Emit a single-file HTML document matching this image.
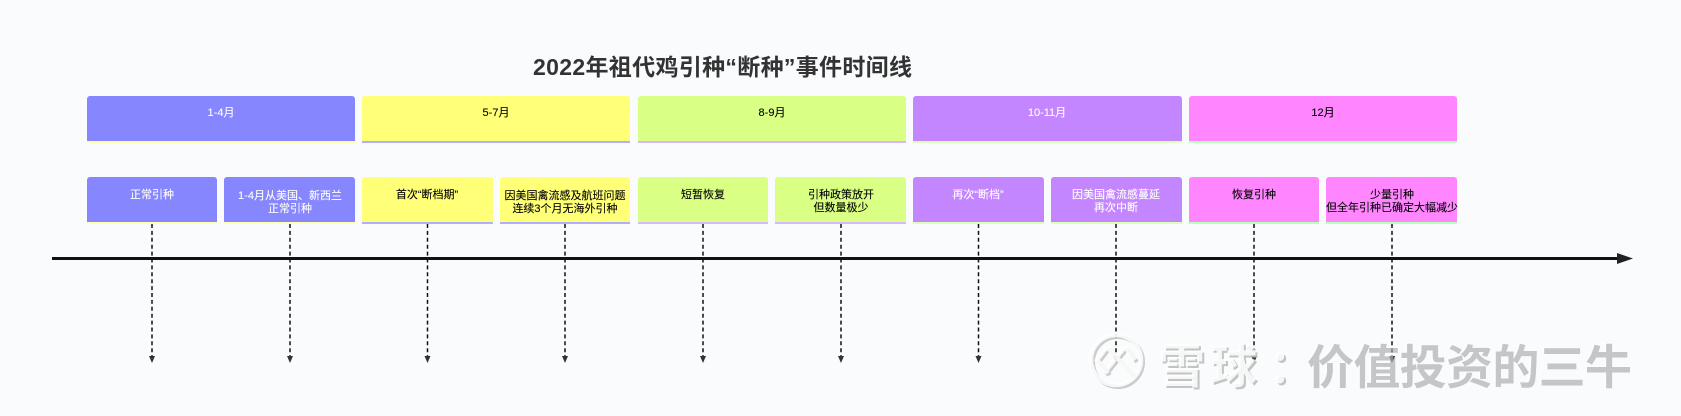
<!DOCTYPE html>
<html><head><meta charset="utf-8"><style>
html,body{margin:0;padding:0;background:#f9fbfd;width:1681px;height:416px;overflow:hidden}
svg{display:block}
text{font-family:"Liberation Sans","Noto Sans CJK SC",sans-serif}
.t{font-size:11px;text-anchor:middle;stroke-width:.1}
.w{fill:#fff;stroke:#fff}
.b{fill:#000;stroke:#000}
.wm{font-size:47px;font-weight:700}
</style></head><body>
<svg width="1681" height="416" viewBox="0 0 1681 416" xmlns="http://www.w3.org/2000/svg">
<rect width="1681" height="416" fill="#f9fbfd"/>
<text x="533" y="75" font-size="23" font-weight="700" fill="#333" textLength="379" lengthAdjust="spacing">2022年祖代鸡引种“断种”事件时间线</text>

<g>
<path d="M87 142V99a3 3 0 0 1 3-3H352a3 3 0 0 1 3 3V142Z" fill="#8686ff"/>
<path d="M362 142V99a3 3 0 0 1 3-3H627a3 3 0 0 1 3 3V142Z" fill="#ffff78"/>
<path d="M638 142V99a3 3 0 0 1 3-3H903a3 3 0 0 1 3 3V142Z" fill="#d9ff85"/>
<path d="M913 142V99a3 3 0 0 1 3-3H1179a3 3 0 0 1 3 3V142Z" fill="#c486ff"/>
<path d="M1189 142V99a3 3 0 0 1 3-3H1454a3 3 0 0 1 3 3V142Z" fill="#ff86ff"/>
</g>
<g>
<rect x="87" y="141" width="268" height="2" fill="#ffffb0"/>
<rect x="362" y="141" width="268" height="2" fill="#b0b0ff"/>
<rect x="638" y="141" width="268" height="2" fill="#d6b8ff"/>
<rect x="913" y="141" width="269" height="2" fill="#dcffb8"/>
<rect x="1189" y="141" width="268" height="2" fill="#b8ffb8"/>
</g>
<text x="221" y="116" class="t w">1-4月</text>
<text x="496" y="116" class="t b">5-7月</text>
<text x="772" y="116" class="t b">8-9月</text>
<text x="1047" y="116" class="t w">10-11月</text>
<text x="1323" y="116" class="t b">12月</text>

<g>
<path d="M87 223V180a3 3 0 0 1 3-3H214a3 3 0 0 1 3 3V223Z" fill="#8686ff"/>
<path d="M224 223V180a3 3 0 0 1 3-3H352a3 3 0 0 1 3 3V223Z" fill="#8686ff"/>
<path d="M362 223V180a3 3 0 0 1 3-3H490a3 3 0 0 1 3 3V223Z" fill="#ffff78"/>
<path d="M500 223V180a3 3 0 0 1 3-3H627a3 3 0 0 1 3 3V223Z" fill="#ffff78"/>
<path d="M638 223V180a3 3 0 0 1 3-3H765a3 3 0 0 1 3 3V223Z" fill="#d9ff85"/>
<path d="M775 223V180a3 3 0 0 1 3-3H903a3 3 0 0 1 3 3V223Z" fill="#d9ff85"/>
<path d="M913 223V180a3 3 0 0 1 3-3H1041a3 3 0 0 1 3 3V223Z" fill="#c486ff"/>
<path d="M1051 223V180a3 3 0 0 1 3-3H1179a3 3 0 0 1 3 3V223Z" fill="#c486ff"/>
<path d="M1189 223V180a3 3 0 0 1 3-3H1316a3 3 0 0 1 3 3V223Z" fill="#ff86ff"/>
<path d="M1326 223V180a3 3 0 0 1 3-3H1454a3 3 0 0 1 3 3V223Z" fill="#ff86ff"/>
</g>
<g>
<rect x="87" y="222" width="130" height="2" fill="#ffffb0"/>
<rect x="224" y="222" width="131" height="2" fill="#ffffb0"/>
<rect x="362" y="222" width="131" height="2" fill="#b0b0ff"/>
<rect x="500" y="222" width="130" height="2" fill="#b0b0ff"/>
<rect x="638" y="222" width="130" height="2" fill="#d6b8ff"/>
<rect x="775" y="222" width="131" height="2" fill="#d6b8ff"/>
<rect x="913" y="222" width="131" height="2" fill="#dcffb8"/>
<rect x="1051" y="222" width="131" height="2" fill="#dcffb8"/>
<rect x="1189" y="222" width="130" height="2" fill="#b8ffb8"/>
<rect x="1326" y="222" width="131" height="2" fill="#b8ffb8"/>
</g>
<text x="152" y="198" class="t w">正常引种</text>
<text x="290" y="199" class="t w">1-4月从美国、新西兰</text>
<text x="290" y="212" class="t w">正常引种</text>
<text x="427" y="198" class="t b">首次“断档期”</text>
<text x="565" y="199" class="t b">因美国禽流感及航班问题</text>
<text x="565" y="212" class="t b">连续3个月无海外引种</text>
<text x="703" y="198" class="t b">短暂恢复</text>
<text x="841" y="198" class="t b">引种政策放开</text>
<text x="841" y="211" class="t b">但数量极少</text>
<text x="978" y="198" class="t w">再次“断档”</text>
<text x="1116" y="198" class="t w">因美国禽流感蔓延</text>
<text x="1116" y="211" class="t w">再次中断</text>
<text x="1254" y="198" class="t b">恢复引种</text>
<text x="1392" y="198" class="t b">少量引种</text>
<text x="1392" y="211" class="t b">但全年引种已确定大幅减少</text>

<g stroke="#111" stroke-width="1.5" stroke-dasharray="4 2.9" fill="none">
<path d="M152 224V357"/><path d="M290 224V357"/><path d="M427.500 224V357"/><path d="M565 224V357"/><path d="M703 224V357"/><path d="M841 224V357"/><path d="M978.500 224V357"/><path d="M1116 224V357"/><path d="M1254 224V357"/><path d="M1392 224V357"/>
</g>
<g fill="#333">
<path d="M149 356H155L152 363Z"/><path d="M287 356H293L290 363Z"/><path d="M424.500 356H430.500L427.500 363Z"/><path d="M562 356H568L565 363Z"/><path d="M700 356H706L703 363Z"/><path d="M838 356H844L841 363Z"/><path d="M975.500 356H981.500L978.500 363Z"/><path d="M1113 356H1119L1116 363Z"/><path d="M1251 356H1257L1254 363Z"/><path d="M1389 356H1395L1392 363Z"/>
</g>
<rect x="52" y="257" width="1568" height="3" fill="#111"/>
<path d="M1617 253L1633 258.500L1617 264Z" fill="#222"/>

<g fill="none" stroke="#c4c4c4" stroke-width="4" opacity=".85">
<circle cx="1118" cy="362" r="25"/>
<path d="M1109 349L1099 362L1110 375M1109 349L1135 377M1127 349L1137 362M1127 349L1106 375"/>
</g>
<g fill="none" stroke="#fff" stroke-width="4.500" opacity=".85">
<circle cx="1116" cy="360" r="25"/>
<path d="M1107 347L1097 360L1108 373M1107 347L1133 375M1125 347L1135 360M1125 347L1104 373"/>
</g>
<g fill="#bdbdbd" opacity=".9">
<text x="1160" y="385" class="wm">雪</text><text x="1212" y="385" class="wm">球</text><text x="1270" y="385" class="wm">：</text>
</g>
<g fill="#fff" opacity=".85">
<text x="1158" y="383" class="wm">雪</text><text x="1210" y="383" class="wm">球</text><text x="1268" y="383" class="wm">：</text>
</g>
<text x="1305" y="383" class="wm" fill="#fff" opacity=".6" textLength="325">价值投资的三牛</text>
<text x="1307" y="384" class="wm" fill="#c8c8c8" style="mix-blend-mode:multiply" textLength="325">价值投资的三牛</text>
</svg>
</body></html>
